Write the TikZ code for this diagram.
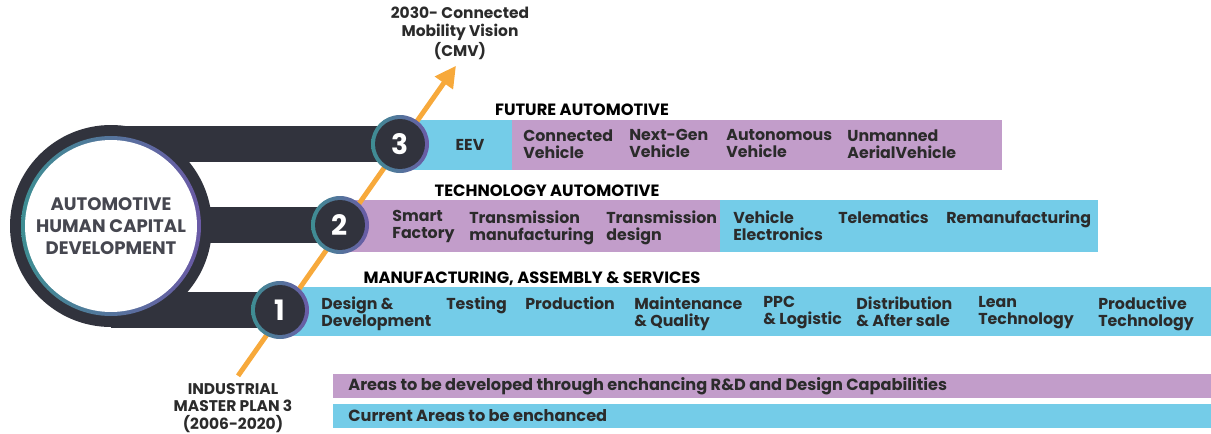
\documentclass[tikz,border=0pt]{standalone}
\usepackage{fontspec}
\setmainfont{Poppins}
\usetikzlibrary{arrows.meta}
\definecolor{cyanband}{HTML}{74CCE8}
\definecolor{purpleband}{HTML}{C29DCA}
\definecolor{darkbar}{HTML}{31333D}
\definecolor{orangeline}{HTML}{F7A93B}
\definecolor{ringteal}{HTML}{3E8E93}
\definecolor{ringpurple}{HTML}{6B5AA6}
\definecolor{textdark}{HTML}{2B2B2B}
\tikzset{
  item/.style={anchor=north west, inner sep=0pt, align=left, text=textdark,
    font=\fontsize{9}{9.7}\selectfont\bfseries, execute at begin node=\vphantom{Ah}},
  heading/.style={anchor=base, inner sep=0pt, text=black,
    font=\fontsize{9.3}{10}\selectfont\bfseries},
  caption/.style={align=center, inner sep=0pt, text=textdark,
    font=\fontsize{8.8}{10}\selectfont\bfseries},
  legend/.style={anchor=west, inner sep=0pt, text=textdark,
    font=\fontsize{9.2}{10}\selectfont\bfseries},
  bar/.style={darkbar, line width=0.72cm},
  stage/.style={circle, fill=darkbar, minimum size=1cm, inner sep=0pt, text=white,
    font=\fontsize{16}{16}\selectfont\bfseries},
  ring/.style={left color=ringteal, right color=ringpurple}
}
\begin{document}
\begin{tikzpicture}[x=0.02cm, y=-0.02cm]
\useasboundingbox (0,0) rectangle (1211,433);
% positions
\coordinate (hub) at (111,226);
\coordinate (p1) at (280,310);
\coordinate (p2) at (340,225);
\coordinate (p3) at (400,144);
% end labels of the arrow
\node[caption, anchor=north] (imp) at (233,383) {INDUSTRIAL\\MASTER PLAN 3\\(2006-2020)};
\node[caption, anchor=south] (cmv) at (460,60) {2030- Connected\\Mobility Vision\\(CMV)};
% bars from the hub
\draw[bar] (hub |- p3) -- (p3);
\draw[bar] (hub |- p2) -- (p2);
\draw[bar] (hub |- p1) -- (p1);
% hub
\fill[darkbar] (hub) circle (101);
\shade[ring] (hub) circle (90);
\node[circle, fill=white, minimum size=3.44cm, inner sep=0pt, align=center, text=darkbar!90,
  font=\fontsize{10.3}{12.4}\selectfont\bfseries] (core) at (hub) {AUTOMOTIVE\\HUMAN CAPITAL\\DEVELOPMENT};
% bands
\fill[cyanband] (p3 |- 0,120) rectangle (512,170);
\fill[purpleband] (512,120) rectangle (1002,170);
\fill[purpleband] (p2 |- 0,200) rectangle (720,252);
\fill[cyanband] (720,200) rectangle (1098,252);
\fill[cyanband] (p1 |- 0,287) rectangle (1211,336);
% arrow
\draw[orangeline, line width=2.8pt, shorten <=5pt, shorten >=4pt,
  -{Triangle[length=12pt, width=12pt]}] (imp.north) -- (cmv.south);
% stages
\shade[ring] (p1) circle (29);
\shade[ring] (p2) circle (29);
\shade[ring] (p3) circle (29);
\node[stage] (n1) at (p1) {1};
\node[stage] (n2) at (p2) {2};
\node[stage] (n3) at (p3) {3};
% future automotive
\node[heading] (h3) at (582,115) {FUTURE AUTOMOTIVE};
\node[item, anchor=center] (eev) at (470,145) {EEV};
\node[item] (cv) at (523,129) {Connected\\Vehicle};
\node[item] (ngv) at (629,129) {Next-Gen\\Vehicle};
\node[item] (av) at (726,129) {Autonomous\\Vehicle};
\node[item] (uav) at (847,129) {Unmanned\\AerialVehicle};
% technology automotive
\node[heading] (h2) at (547,196) {TECHNOLOGY AUTOMOTIVE};
\node[item] (sf) at (392,210) {Smart\\Factory};
\node[item] (tm) at (469,210) {Transmission\\manufacturing};
\node[item] (td) at (606,210) {Transmission\\design};
\node[item] (ve) at (733,210) {Vehicle\\Electronics};
\node[item] (tel) at (838,210) {Telematics};
\node[item] (rem) at (946,210) {Remanufacturing};
% manufacturing, assembly & services
\node[heading] (h1) at (532,283) {MANUFACTURING, ASSEMBLY \& SERVICES};
\node[item] (dd) at (321,296) {Design \&\\Development};
\node[item] (tst) at (446,296) {Testing};
\node[item] (prod) at (525,296) {Production};
\node[item] (mq) at (634,296) {Maintenance\\\& Quality};
\node[item] (ppc) at (763,296) {PPC\\\& Logistic};
\node[item] (das) at (856,296) {Distribution\\\& After sale};
\node[item] (lean) at (978,296) {Lean\\Technology};
\node[item] (pt) at (1098,296) {Productive\\Technology};
% legend
\fill[purpleband] (333,374) rectangle (1211,398);
\fill[cyanband] (333,404) rectangle (1211,428);
\node[legend] (lg1) at (348,386) {Areas to be developed through enchancing R\&D and Design Capabilities};
\node[legend] (lg2) at (348,416) {Current Areas to be enchanced};
\end{tikzpicture}
\end{document}
